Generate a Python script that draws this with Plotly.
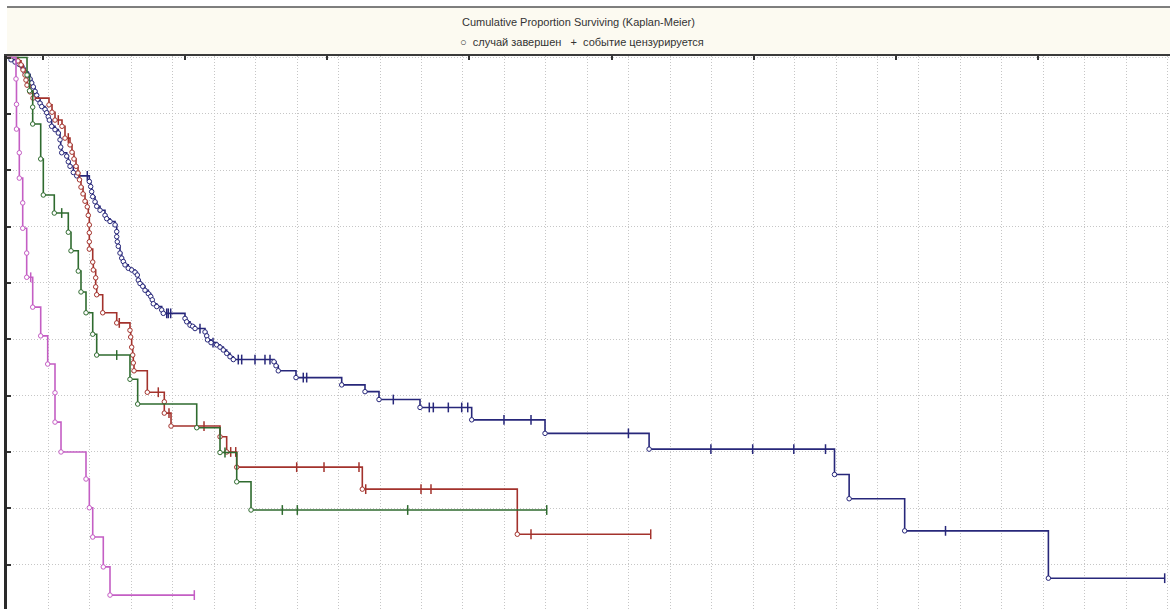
import plotly.graph_objects as go

# ---- Kaplan-Meier data per group -------------------------------------------
# event times (drops, marked with circles) and survival right after each drop;
# censoring times (marked with "+"), survival level taken from the curve.

blue_event_t = [0.97, 1.93, 2.90, 3.55, 3.93, 4.34, 5.14, 5.55, 5.96, 6.35, 6.76, 7.17, 7.41,
                7.96, 8.37, 9.17, 9.58, 9.96, 10.21, 10.78, 11.58, 12.38, 12.79, 12.96, 13.20,
                14.40, 14.79, 15.20, 16.00, 16.82, 19.86, 20.19, 20.43, 20.68, 21.23, 21.64,
                22.44, 23.64, 24.05, 24.85, 26.06, 26.47, 26.47, 26.61, 26.85, 27.26, 27.67,
                28.06, 28.47, 29.26, 30.08, 30.88, 31.44, 31.68, 32.09, 32.74, 33.29, 34.09,
                34.67, 35.05, 35.30, 36.12, 37.32, 37.71, 42.94, 43.35, 44.15, 44.80, 45.36,
                47.77, 48.18, 48.37, 49.22, 50.59, 51.39, 52.18, 53.00, 53.80, 54.60, 64.41,
                64.90, 65.45, 69.72, 80.75, 86.37, 89.75, 99.64, 112.11, 129.80, 154.91,
                199.64, 203.17, 216.57, 251.24]
blue_event_s = [0.996, 0.992, 0.988, 0.985, 0.980, 0.974, 0.969, 0.962, 0.955, 0.948, 0.940,
                0.933, 0.926, 0.919, 0.913, 0.908, 0.902, 0.895, 0.889, 0.878, 0.872, 0.866,
                0.854, 0.841, 0.831, 0.825, 0.815, 0.807, 0.796, 0.790, 0.780, 0.771, 0.762,
                0.753, 0.744, 0.736, 0.729, 0.720, 0.714, 0.709, 0.703, 0.691, 0.682, 0.673,
                0.665, 0.653, 0.644, 0.638, 0.632, 0.626, 0.623, 0.619, 0.614, 0.605, 0.599,
                0.594, 0.587, 0.581, 0.576, 0.570, 0.563, 0.558, 0.552, 0.546, 0.537, 0.531,
                0.525, 0.523, 0.519, 0.513, 0.506, 0.499, 0.494, 0.490, 0.486, 0.481, 0.475,
                0.469, 0.464, 0.460, 0.453, 0.444, 0.432, 0.419, 0.407, 0.393, 0.379, 0.357,
                0.333, 0.305, 0.260, 0.217, 0.160, 0.076]
blue_cens_t = [19.37, 38.53, 38.91, 39.49, 46.56, 49.70, 55.80, 56.62, 59.83, 62.24, 63.45,
               71.48, 72.30, 93.20, 101.88, 102.85, 106.47, 109.70, 111.15, 119.90, 126.42,
               149.92, 169.82, 179.90, 189.82, 197.47, 226.42, 279.30]

red_event_t = [2.65, 3.38, 3.86, 4.34, 4.58, 4.83, 5.55, 6.27, 10.13, 10.86, 11.58, 13.27,
               13.99, 15.20, 15.68, 16.16, 16.65, 17.13, 17.49, 17.85, 18.34, 18.82, 19.37,
               19.61, 19.86, 19.86, 19.86, 19.86, 20.68, 20.82, 21.40, 21.40, 21.64, 23.09,
               26.47, 29.67, 29.84, 30.08, 30.33, 30.47, 30.64, 33.85, 37.95, 37.95, 39.57,
               51.39, 53.00, 55.42, 85.72, 123.11]
red_event_s = [0.994, 0.987, 0.978, 0.969, 0.960, 0.951, 0.939, 0.928, 0.916, 0.903, 0.889,
               0.878, 0.857, 0.845, 0.832, 0.820, 0.807, 0.795, 0.783, 0.770, 0.758, 0.745,
               0.735, 0.720, 0.703, 0.689, 0.673, 0.660, 0.637, 0.623, 0.609, 0.593, 0.579,
               0.547, 0.529, 0.516, 0.504, 0.486, 0.472, 0.458, 0.444, 0.406, 0.389, 0.369,
               0.346, 0.327, 0.300, 0.273, 0.234, 0.154]
red_cens_t = [12.38, 14.79, 27.09, 36.50, 39.08, 47.53, 53.97, 55.18, 69.89, 76.48, 84.92,
              86.54, 99.88, 102.29, 126.42, 155.30]

green_event_t = [4.83, 5.43, 6.20, 6.20, 8.13, 8.76, 11.41, 14.79, 15.44, 17.20, 17.85, 19.06,
                 20.68, 21.64, 29.67, 31.53, 45.77, 51.39, 55.42, 58.87]
green_event_s = [0.969, 0.941, 0.912, 0.882, 0.820, 0.756, 0.724, 0.690, 0.657, 0.621, 0.584,
                 0.547, 0.509, 0.472, 0.429, 0.385, 0.343, 0.299, 0.247, 0.197]
green_cens_t = [13.20, 26.47, 52.59, 66.42, 70.04, 96.67, 130.21]

magenta_event_t = [2.17, 2.29, 2.29, 2.97, 2.97, 3.79, 3.79, 4.75, 4.75, 6.20, 8.13, 9.82,
                   11.58, 11.58, 13.03, 19.06, 19.86, 20.68, 23.23, 24.85]
magenta_event_s = [0.962, 0.917, 0.873, 0.831, 0.786, 0.742, 0.697, 0.653, 0.610, 0.557,
                   0.506, 0.456, 0.405, 0.353, 0.300, 0.252, 0.201, 0.149, 0.096, 0.046]
magenta_cens_t = [5.72, 45.19]

groups = [
    ("blue", blue_event_t, blue_event_s, blue_cens_t, "#27277a"),
    ("red", red_event_t, red_event_s, red_cens_t, "#a3322c"),
    ("green", green_event_t, green_event_s, green_cens_t, "#2f6b2f"),
    ("magenta", magenta_event_t, magenta_event_s, magenta_cens_t, "#c45ec4"),
]

# x axis: time, grid every 10 units; y axis: cumulative proportion surviving
X_MAX = 280.58
Y_MIN, Y_MAX = 0.0213, 1.0027
TOP_TICKS = [8.61, 42.92, 77.23, 111.54, 145.85, 180.16, 214.47, 248.78]


def level_at(t, ev_t, ev_s):
    s = 1.0
    for et, es in zip(ev_t, ev_s):
        if et <= t:
            s = es
    return s


fig = go.Figure()

for name, ev_t, ev_s, c_t, color in groups:
    c_s = [level_at(t, ev_t, ev_s) for t in c_t]
    pts = [(0.0, 0, -1.0)]
    pts += [(t, 0, -s) for t, s in zip(ev_t, ev_s)]
    pts += [(t, 1, -s) for t, s in zip(c_t, c_s)]
    pts.sort()
    fig.add_trace(go.Scatter(
        x=[p[0] for p in pts], y=[-p[2] for p in pts],
        mode="lines", line=dict(color=color, width=1.6, shape="hv"),
        hoverinfo="skip", showlegend=False))
    fig.add_trace(go.Scatter(
        x=c_t, y=c_s, mode="markers",
        marker=dict(symbol="line-ns-open", size=7, color=color,
                    line=dict(color=color, width=1.5)),
        name=name + " censored", showlegend=False))
    fig.add_trace(go.Scatter(
        x=ev_t, y=ev_s, mode="markers",
        marker=dict(symbol="circle", size=4.5, color="white", line=dict(color=color, width=1)),
        name=name + " event", showlegend=False))

# top frame axis carrying the major ticks
fig.add_trace(go.Scatter(x=[0], y=[0], xaxis="x2", mode="markers",
                         marker=dict(opacity=0), hoverinfo="skip", showlegend=False))

# header panel with the title and the marker key
fig.add_shape(type="rect", xref="paper", yref="paper", x0=0, x1=1.01, y0=1.0, y1=1.0886,
              fillcolor="#fcfaf1", line=dict(width=0), layer="below")
fig.add_shape(type="line", xref="paper", yref="paper", x0=0, x1=1.01, y0=1.0886, y1=1.0886,
              line=dict(color="#555555", width=1.5))

fig.add_annotation(text="Cumulative Proportion Surviving (Kaplan-Meier)",
                   xref="paper", yref="paper", x=0.4915, y=1.0615, yanchor="middle",
                   showarrow=False,
                   font=dict(family="Liberation Sans, Arial", size=11, color="#333333"))
fig.add_annotation(text="\u25cb  случай завершен   +  событие цензурируется",
                   xref="paper", yref="paper", x=0.4945, y=1.0253, yanchor="middle",
                   showarrow=False,
                   font=dict(family="Liberation Sans, Arial", size=11, color="#333333"))

grid = dict(showgrid=True, gridcolor="#c6c6c6", gridwidth=1, griddash="1px,2px")

fig.update_layout(
    width=1170, height=609,
    margin=dict(l=7, r=0, t=56, b=0),
    paper_bgcolor="white", plot_bgcolor="white",
    xaxis=dict(range=[0, X_MAX], dtick=10, tick0=0, showticklabels=False, ticks="",
               zeroline=False, showline=False, **grid),
    xaxis2=dict(range=[0, X_MAX], overlaying="x", side="top", tickvals=TOP_TICKS,
                ticks="inside", ticklen=4, tickwidth=1.5, tickcolor="#333333",
                showticklabels=False, showgrid=False, zeroline=False,
                showline=True, linecolor="#3a3a3a", linewidth=2),
    yaxis=dict(range=[Y_MIN, Y_MAX], dtick=0.1, tick0=0, showticklabels=False,
               ticks="inside", ticklen=4, tickwidth=1.5, tickcolor="#333333",
               zeroline=False, showline=True, linecolor="#2a2a2a", linewidth=2.5, **grid),
)

fig.write_html("out.html")
